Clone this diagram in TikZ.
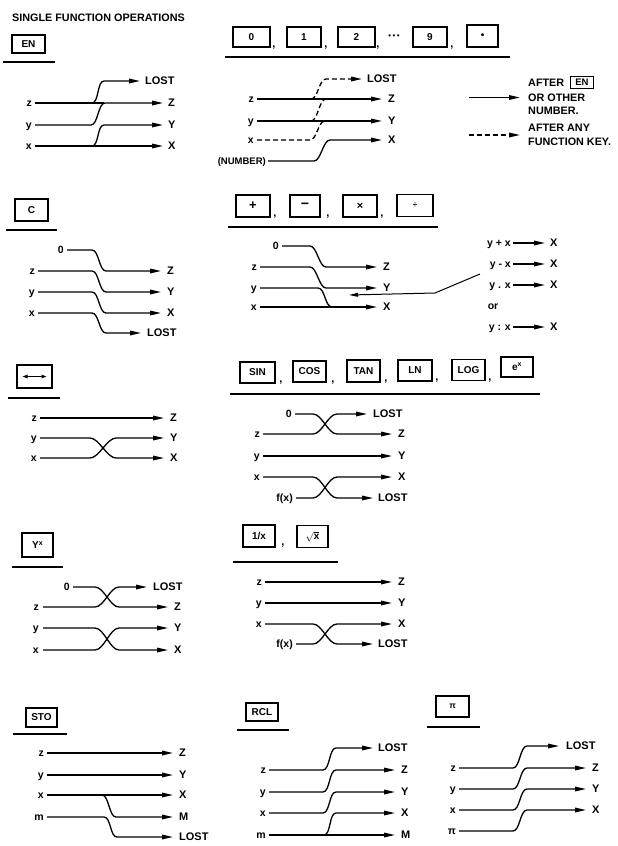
\documentclass[tikz,border=0pt]{standalone}
\usepackage{fontspec}
\setmainfont{Liberation Sans}
\usetikzlibrary{arrows.meta}
\begin{document}
\begin{tikzpicture}[x=1pt,y=-1pt,
  wire/.style={line width=1.3pt},
  arr/.style={wire,-{Triangle[length=11pt,width=4.6pt]}},
  dsh/.style={dash pattern=on 5pt off 3pt},
  sc/.style={to path={.. controls ([xshift=#1]\tikztostart) and ([xshift=-#1]\tikztotarget) .. (\tikztotarget)}},
  sc/.default=7pt,
  keybox/.style={draw,line width=1.4pt,font=\fontsize{10}{10}\selectfont\bfseries,inner sep=0pt,minimum height=20pt},
  rul/.style={line width=1.3pt},
  lin/.style={anchor=east,font=\fontsize{10.5}{10.5}\selectfont\bfseries,inner sep=0pt,text height=6pt,text depth=0pt},
  lout/.style={anchor=west,font=\fontsize{11}{11}\selectfont\bfseries,inner sep=0pt,text height=7.8pt,text depth=0pt},
  cma/.style={font=\fontsize{11}{11}\selectfont\bfseries,inner sep=0pt},
  leg/.style={anchor=west,font=\fontsize{10.8}{10.8}\selectfont\bfseries,inner sep=0pt,text height=7.5pt,text depth=0pt}
]
\fill[white] (0,0) rectangle (618,846);
\useasboundingbox (0,0) rectangle (618,846);

\node[anchor=west,font=\fontsize{10.8}{10.8}\selectfont\bfseries,inner sep=0pt] (title) at (12,18) {SINGLE FUNCTION OPERATIONS};

% ---------- EN ----------
\node[keybox,minimum width=33pt,minimum height=18pt] (kEN) at (28.5,44) {EN};
\draw[rul] (3,62) -- (55,62);
\node[lin] (az) at (32,103) {z};
\node[lin] (ay) at (32,125) {y};
\node[lin] (ax) at (32,146) {x};
\node[lout] (aL) at (145,81) {LOST};
\node[lout] (aZ) at (168,103) {Z};
\node[lout] (aY) at (168,125) {Y};
\node[lout] (aX) at (168,146) {X};
\draw[wire] ([xshift=3pt]az.east) -- (104,103);
\draw[arr] (92,103) to[sc] (104,81) -- ([xshift=-5pt]aL.west);
\draw[arr] ([xshift=3pt]ay.east) -- (91,125) to[sc] (105,103) -- ([xshift=-5pt]aZ.west);
\draw[arr] ([xshift=3pt]ax.east) -- ([xshift=-5pt]aX.west);
\draw[arr] (92,146) to[sc] (104,125) -- ([xshift=-5pt]aY.west);

% ---------- 0..9 ----------
\node[keybox,minimum width=37pt] (k0) at (251.5,37) {0};
\node[cma] at (274,48) {,};
\node[keybox,minimum width=34pt] (k1) at (304,37) {1};
\node[cma] at (326,48) {,};
\node[keybox,minimum width=37pt] (k2) at (356.5,37) {2};
\node[cma] at (378,48) {,};
\node[font=\fontsize{8}{8}\selectfont,inner sep=0pt] (dots) at (394,37) {•\hspace{1.5pt}•\hspace{1.5pt}•};
\node[keybox,minimum width=34pt] (k9) at (430,37) {9};
\node[cma] at (452,48) {,};
\node[keybox,minimum width=31pt,minimum height=22pt] (kdot) at (482.5,36) {•};
\draw[rul] (225,57) -- (510,57);

\node[lin] (bz) at (254,99) {z};
\node[lin] (by) at (254,121) {y};
\node[lin] (bx) at (254,140) {x};
\node[lin,font=\fontsize{9.5}{9.5}\selectfont\bfseries] (bn) at (266,161) {(NUMBER)};
\node[lout] (bL) at (367,79) {LOST};
\node[lout] (bZ) at (388,99) {Z};
\node[lout] (bY) at (388,121) {Y};
\node[lout] (bX) at (388,140) {X};
\draw[arr] ([xshift=3pt]bz.east) -- ([xshift=-6pt]bZ.west);
\draw[arr] ([xshift=3pt]by.east) -- ([xshift=-6pt]bY.west);
\draw[arr,dsh] (311,99) to[sc] (326,79) -- ([xshift=-5pt]bL.west);
\draw[wire,dsh] (311,121) to[sc] (326,99);
\draw[wire,dsh] ([xshift=3pt]bx.east) -- (310,140) to[sc] (325,121);
\draw[arr] ([xshift=2pt]bn.east) -- (314,161) to[sc] (330,140) -- ([xshift=-6pt]bX.west);

% legend
\coordinate (lgs) at (469,97.5);
\coordinate (lgd) at (469,135);
\node[leg] (lg1) at (528,83) {AFTER};
\node[keybox,minimum width=23pt,minimum height=12pt,line width=1.1pt,font=\fontsize{9.5}{9.5}\selectfont\bfseries] (lgEN) at (582,82.5) {EN};
\node[leg] (lg2) at (528,97.5) {OR OTHER};
\node[leg] (lg3) at (528,110.5) {NUMBER.};
\node[leg] (lg4) at (528,128) {AFTER ANY};
\node[leg] (lg5) at (528,142) {FUNCTION KEY.};
\draw[arr] (lgs) -- ([xshift=-8pt]lg2.west);
\draw[arr,dsh] (lgd) -- (520,135);

% ---------- C ----------
\node[keybox,minimum width=33pt,minimum height=22pt] (kC) at (31.5,210) {C};
\draw[rul] (6,230) -- (57,230);
\node[lin] (c0) at (64,250) {0};
\node[lin] (cz) at (35,271) {z};
\node[lin] (cy) at (35,292) {y};
\node[lin] (cx) at (35,313) {x};
\node[lout] (cZ) at (167,271) {Z};
\node[lout] (cY) at (167,292) {Y};
\node[lout] (cX) at (167,313) {X};
\node[lout] (cL) at (147,333) {LOST};
\draw[arr] ([xshift=3pt]c0.east) -- (92,250) to[sc] (106,271) -- ([xshift=-6pt]cZ.west);
\draw[arr] ([xshift=3pt]cz.east) -- (92,271) to[sc] (106,292) -- ([xshift=-6pt]cY.west);
\draw[arr] ([xshift=3pt]cy.east) -- (92,292) to[sc] (106,313) -- ([xshift=-6pt]cX.west);
\draw[arr] ([xshift=3pt]cx.east) -- (92,313) to[sc] (106,333) -- ([xshift=-6pt]cL.west);

% ---------- + - x / ----------
\node[keybox,minimum width=34pt,minimum height=22pt,font=\fontsize{13}{13}\selectfont\bfseries] (kP) at (253,206) {+};
\node[cma] at (275,217) {,};
\node[keybox,minimum width=30pt,minimum height=22pt,font=\fontsize{14}{14}\selectfont\bfseries] (kM) at (305,206) {−};
\node[cma] at (328,217) {,};
\node[keybox,minimum width=34pt,minimum height=22pt,font=\fontsize{11}{11}\selectfont\bfseries] (kT) at (360,206) {×};
\node[cma] at (382,217) {,};
\node[keybox,minimum width=36pt,minimum height=22pt,font=\fontsize{8}{8}\selectfont\bfseries] (kD) at (415,205.5) {÷};
\draw[rul] (228,227) -- (438,227);
\node[lin] (p0) at (279,246) {0};
\node[lin] (pz) at (257,267) {z};
\node[lin] (py) at (257,288) {y};
\node[lin] (px) at (257,307) {x};
\node[lout] (pZ) at (383,267) {Z};
\node[lout] (pY) at (383,288) {Y};
\node[lout] (pX) at (383,307) {X};
\draw[arr] ([xshift=3pt]p0.east) -- (310,246) to[sc] (326,267) -- ([xshift=-6pt]pZ.west);
\draw[arr] ([xshift=3pt]pz.east) -- (310,267) to[sc] (326,288) -- ([xshift=-6pt]pY.west);
\draw[wire] ([xshift=3pt]py.east) -- (318,288) to[sc] (332,307);
\draw[arr] ([xshift=3pt]px.east) -- ([xshift=-6pt]pX.west);
\node[lin] (f1) at (511,243) {y + x};
\node[lin] (f2) at (511,264) {y - x};
\node[lin] (f3) at (511,285) {y . x};
\node[lin,anchor=center] (f0) at (493,306) {or};
\node[lin] (f4) at (511,327) {y : x};
\node[lout] (g1) at (550,243) {X};
\node[lout] (g2) at (550,264) {X};
\node[lout] (g3) at (550,285) {X};
\node[lout] (g4) at (550,327) {X};
\draw[arr] ([xshift=2pt]f1.east) -- ([xshift=-5pt]g1.west);
\draw[arr] ([xshift=2pt]f2.east) -- ([xshift=-5pt]g2.west);
\draw[arr] ([xshift=2pt]f3.east) -- ([xshift=-5pt]g3.west);
\draw[arr] ([xshift=2pt]f4.east) -- ([xshift=-5pt]g4.west);
\coordinate (ptr) at (480,274);
\draw[wire,line width=1pt,-{Triangle[length=9pt,width=3.8pt]}] (ptr) -- (435,293) -- (349,295);

% ---------- swap ----------
\node[keybox,minimum width=35pt,minimum height=23pt] (kS) at (34.5,376.5) {};
\draw[line width=1pt,{Triangle[length=5pt,width=3.5pt]}-{Triangle[length=5pt,width=3.5pt]}] ([xshift=-12pt]kS.center) -- ([xshift=12pt]kS.center);
\draw[rul] (8,398) -- (60,398);
\node[lin] (sz) at (37,418) {z};
\node[lin] (sy) at (37,438) {y};
\node[lin] (sx) at (37,458) {x};
\node[lout] (sZ) at (170,418) {Z};
\node[lout] (sY) at (170,438) {Y};
\node[lout] (sX) at (170,458) {X};
\draw[arr] ([xshift=3pt]sz.east) -- ([xshift=-6pt]sZ.west);
\draw[arr] ([xshift=3pt]sy.east) -- (90,438) to[sc=9pt] (116,458) -- ([xshift=-6pt]sX.west);
\draw[arr] ([xshift=3pt]sx.east) -- (90,458) to[sc=9pt] (116,438) -- ([xshift=-6pt]sY.west);

% ---------- SIN ... ----------
\node[keybox,minimum width=35pt,minimum height=21pt] (kSIN) at (257.5,372.5) {SIN};
\node[cma] at (281,383) {,};
\node[keybox,minimum width=33pt,minimum height=21pt] (kCOS) at (309.5,371.5) {COS};
\node[cma] at (333,383) {,};
\node[keybox,minimum width=33pt,minimum height=22pt] (kTAN) at (363.5,371) {TAN};
\node[cma] at (386,382) {,};
\node[keybox,minimum width=34pt,minimum height=21pt] (kLN) at (415,370.5) {LN};
\node[cma] at (437,381) {,};
\node[keybox,minimum width=33pt,minimum height=21pt] (kLOG) at (468.5,370) {LOG};
\node[cma] at (490,381) {,};
\node[keybox,minimum width=32pt,minimum height=20pt] (kEX) at (517,367) {e\textsuperscript{x}};
\draw[rul] (230,394) -- (540,394);
\node[lin] (n0) at (292,414) {0};
\node[lin] (nz) at (260,434) {z};
\node[lin] (ny) at (260,456) {y};
\node[lin] (nx) at (260,477) {x};
\node[lin] (nf) at (293,498) {f(x)};
\node[lout] (nL1) at (373,414) {LOST};
\node[lout] (nZ) at (398,434) {Z};
\node[lout] (nY) at (398,456) {Y};
\node[lout] (nX) at (398,477) {X};
\node[lout] (nL2) at (378,498) {LOST};
\draw[arr] ([xshift=3pt]n0.east) -- (313,414) to[sc=9pt] (337,434) -- ([xshift=-6pt]nZ.west);
\draw[arr] ([xshift=3pt]nz.east) -- (313,434) to[sc=9pt] (337,414) -- ([xshift=-6pt]nL1.west);
\draw[arr] ([xshift=3pt]ny.east) -- ([xshift=-6pt]nY.west);
\draw[arr] ([xshift=3pt]nx.east) -- (313,477) to[sc=9pt] (337,498) -- ([xshift=-5pt]nL2.west);
\draw[arr] ([xshift=3pt]nf.east) -- (313,498) to[sc=9pt] (337,477) -- ([xshift=-6pt]nX.west);

% ---------- Y^x ----------
\node[keybox,minimum width=31pt,minimum height=24pt] (kYX) at (37.5,545) {Y\raisebox{2.5pt}{\fontsize{7}{7}\selectfont x}};
\draw[rul] (12,567) -- (63,567);
\node[lin] (y0) at (70,587) {0};
\node[lin] (yz) at (39,607) {z};
\node[lin] (yy) at (39,628) {y};
\node[lin] (yx) at (39,650) {x};
\node[lout] (yL) at (153,587) {LOST};
\node[lout] (yZ) at (174,607) {Z};
\node[lout] (yY) at (174,628) {Y};
\node[lout] (yX) at (174,650) {X};
\draw[arr] ([xshift=3pt]y0.east) -- (95,587) to[sc=9pt] (119,607) -- ([xshift=-6pt]yZ.west);
\draw[arr] ([xshift=4pt]yz.east) -- (95,607) to[sc=9pt] (119,587) -- ([xshift=-6pt]yL.west);
\draw[arr] ([xshift=4pt]yy.east) -- (95,628) to[sc=9pt] (119,650) -- ([xshift=-6pt]yX.west);
\draw[arr] ([xshift=4pt]yx.east) -- (95,650) to[sc=9pt] (119,628) -- ([xshift=-6pt]yY.west);

% ---------- 1/x, sqrt x ----------
\node[keybox,minimum width=32pt,minimum height=22pt] (kR) at (259,536) {1/x};
\node[cma] at (283,546) {,};
\node[keybox,minimum width=31pt,minimum height=22pt] (kQ) at (312.5,536.5) {$\sqrt{\mathbf{x}}$};
\draw[rul] (233,562) -- (338,562);
\node[lin] (rz) at (262,582) {z};
\node[lin] (ry) at (262,603) {y};
\node[lin] (rx) at (262,624) {x};
\node[lin] (rf) at (293,644) {f(x)};
\node[lout] (rZ) at (398,582) {Z};
\node[lout] (rY) at (398,603) {Y};
\node[lout] (rX) at (398,624) {X};
\node[lout] (rL) at (378,644) {LOST};
\draw[arr] ([xshift=3pt]rz.east) -- ([xshift=-6pt]rZ.west);
\draw[arr] ([xshift=3pt]ry.east) -- ([xshift=-6pt]rY.west);
\draw[arr] ([xshift=3pt]rx.east) -- (313,624) to[sc=9pt] (337,644) -- ([xshift=-5pt]rL.west);
\draw[arr] ([xshift=3pt]rf.east) -- (313,644) to[sc=9pt] (337,624) -- ([xshift=-6pt]rX.west);

% ---------- STO ----------
\node[keybox,minimum width=31pt,minimum height=19pt] (kSTO) at (41.5,717.5) {STO};
\draw[rul] (13,734) -- (67,734);
\node[lin] (tz) at (44,753) {z};
\node[lin] (ty) at (44,775) {y};
\node[lin] (tx) at (44,795) {x};
\node[lin] (tm) at (44,817) {m};
\node[lout] (tZ) at (179,753) {Z};
\node[lout] (tY) at (179,775) {Y};
\node[lout] (tX) at (179,795) {X};
\node[lout] (tM) at (179,817) {M};
\node[lout] (tL) at (179,837) {LOST};
\coordinate (tb) at (102,795);
\draw[arr] ([xshift=3pt]tz.east) -- ([xshift=-6pt]tZ.west);
\draw[arr] ([xshift=3pt]ty.east) -- ([xshift=-6pt]tY.west);
\draw[arr] ([xshift=3pt]tx.east) -- ([xshift=-6pt]tX.west);
\draw[arr] (tb) to[sc] (116,817) -- ([xshift=-6pt]tM.west);
\draw[arr] ([xshift=3pt]tm.east) -- (104,817) to[sc] (117,837) -- ([xshift=-6pt]tL.west);

% ---------- RCL ----------
\node[keybox,minimum width=32pt,minimum height=18pt] (kRCL) at (262,712) {RCL};
\draw[rul] (237,730) -- (289,730);
\node[lin] (qz) at (266,770) {z};
\node[lin] (qy) at (266,792) {y};
\node[lin] (qx) at (266,813) {x};
\node[lin] (qm) at (266,835) {m};
\node[lout] (qL) at (378,748) {LOST};
\node[lout] (qZ) at (401,770) {Z};
\node[lout] (qY) at (401,792) {Y};
\node[lout] (qX) at (401,813) {X};
\node[lout] (qM) at (401,835) {M};
\coordinate (qb) at (324,835);
\draw[arr] ([xshift=3pt]qz.east) -- (323,770) to[sc] (336,748) -- ([xshift=-5pt]qL.west);
\draw[arr] ([xshift=3pt]qy.east) -- (323,792) to[sc] (336,770) -- ([xshift=-6pt]qZ.west);
\draw[arr] ([xshift=3pt]qx.east) -- (323,813) to[sc] (336,792) -- ([xshift=-6pt]qY.west);
\draw[arr] ([xshift=3pt]qm.east) -- ([xshift=-6pt]qM.west);
\draw[arr] (qb) to[sc] (336,813) -- ([xshift=-6pt]qX.west);

% ---------- pi ----------
\node[keybox,minimum width=33pt,minimum height=21pt,font=\fontsize{8.5}{8.5}\selectfont\bfseries] (kPI) at (452.5,706.5) {π};
\draw[rul] (427,727) -- (480,727);
\node[lin] (iz) at (456,768) {z};
\node[lin] (iy) at (456,789) {y};
\node[lin] (ix) at (456,810) {x};
\node[lin] (ip) at (456,831) {π};
\node[lout] (iL) at (566,746) {LOST};
\node[lout] (iZ) at (592,768) {Z};
\node[lout] (iY) at (592,789) {Y};
\node[lout] (iX) at (592,810) {X};
\draw[arr] ([xshift=3pt]iz.east) -- (513,768) to[sc] (527,746) -- ([xshift=-7pt]iL.west);
\draw[arr] ([xshift=3pt]iy.east) -- (513,789) to[sc] (527,768) -- ([xshift=-6pt]iZ.west);
\draw[arr] ([xshift=3pt]ix.east) -- (513,810) to[sc] (527,789) -- ([xshift=-6pt]iY.west);
\draw[arr] ([xshift=3pt]ip.east) -- (513,831) to[sc] (527,810) -- ([xshift=-6pt]iX.west);
\end{tikzpicture}
\end{document}
